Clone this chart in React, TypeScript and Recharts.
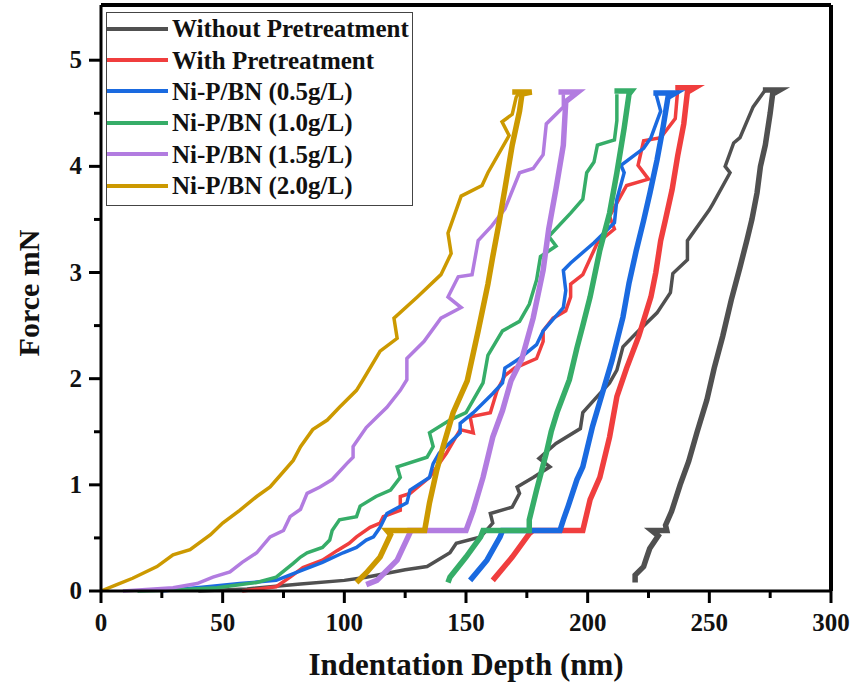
import { LineChart, Line, XAxis, YAxis, ReferenceLine, Label } from 'recharts'

type Pt = [number, number]

const seriesNames = [
  'Without Pretreatment',
  'With Pretreatment',
  'Ni-P/BN (0.5g/L)',
  'Ni-P/BN (1.0g/L)',
  'Ni-P/BN (1.5g/L)',
  'Ni-P/BN (2.0g/L)',
]
const seriesColors = ['#505050', '#f03e3e', '#1a6ae0', '#36ad68', '#b27ce0', '#cc9900']

const xTicks = [0, 25, 50, 75, 100, 125, 150, 175, 200, 225, 250, 275, 300]
const yTicks = [0, 0.5, 1, 1.5, 2, 2.5, 3, 3.5, 4, 4.5, 5]

// depth (nm), force (mN)
const grayLoad: Pt[] = [
  [40, 0], [60, 0.02], [82, 0.066], [100, 0.1], [109, 0.13], [125, 0.2], [134, 0.23], [143.4, 0.36],
  [146, 0.45], [156, 0.51], [161, 0.64], [160, 0.73], [169, 0.79], [172, 0.92], [171, 0.98],
  [177.6, 1.07], [184.5, 1.17], [180, 1.25], [187, 1.39], [197, 1.53], [198, 1.68], [205, 1.86],
  [209, 1.96], [212, 2.08], [214.5, 2.3], [220, 2.43], [228.5, 2.62], [234, 2.81], [235, 2.99],
  [241, 3.12], [241, 3.3], [250, 3.59], [251.5, 3.65], [258.5, 3.94], [256.5, 4.0], [260, 4.22],
  [262.6, 4.27], [268, 4.56], [273, 4.72],
]
const grayUnload: Pt[] = [
  [272, 4.72], [279, 4.72], [276, 4.68], [275, 4.5], [273, 4.2], [271, 4.0], [269.6, 3.75],
  [267.5, 3.5], [265.5, 3.31], [262.6, 3.05], [259, 2.74], [255.5, 2.4], [252, 2.1], [249, 1.8],
  [245, 1.5], [241.5, 1.22], [238, 1.0], [234.5, 0.75], [232, 0.62], [232.5, 0.57], [226.3, 0.57],
  [229, 0.52], [225.5, 0.4], [224, 0.3], [223, 0.23], [219.5, 0.15], [219.5, 0.08],
]

const redLoad: Pt[] = [
  [58, 0], [65, 0.02], [72, 0.04], [77.7, 0.13], [83, 0.22], [91, 0.29], [97, 0.38], [102, 0.45],
  [105, 0.51], [110.6, 0.6], [114.7, 0.64], [116, 0.7], [123, 0.76], [123, 0.89], [127, 0.92],
  [135, 1.07], [142, 1.3], [147.6, 1.52], [153, 1.49], [151.7, 1.64], [160, 1.68], [162.8, 1.89],
  [166, 2.03], [170, 2.1], [179, 2.19], [181.7, 2.35], [181.7, 2.45], [185.8, 2.57], [191, 2.64],
  [193, 2.77], [193, 2.89], [198, 2.98], [204, 3.28], [211, 3.41], [209, 3.53], [216, 3.82],
  [225, 3.88], [220.7, 4.01], [223, 4.24], [230, 4.27], [236, 4.45], [237, 4.72],
]
const redUnload: Pt[] = [
  [236, 4.74], [244, 4.74], [241, 4.7], [239.5, 4.4], [237, 4.1], [234.7, 3.78], [232, 3.5],
  [230, 3.3], [228, 3.0], [226, 2.77], [221, 2.4], [216, 2.1], [212, 1.83], [209, 1.45],
  [205, 1.07], [201, 0.86], [198, 0.57], [177.6, 0.57], [176, 0.54], [169, 0.32], [161, 0.1],
]

const blueLoad: Pt[] = [
  [25, 0], [43.6, 0.04], [57, 0.07], [72, 0.1], [83, 0.2], [91, 0.27], [99.5, 0.36], [105, 0.41],
  [109, 0.48], [112, 0.51], [114.7, 0.6], [117.5, 0.73], [125.7, 0.83], [127, 0.95], [135, 1.07],
  [136.5, 1.2], [139, 1.3], [147.6, 1.49], [147.6, 1.58], [153, 1.68], [161, 1.86], [165, 1.96],
  [166, 2.1], [172, 2.19], [179, 2.32], [181.7, 2.45], [190, 2.67], [191, 2.83], [190, 3.02],
  [193, 3.09], [202.6, 3.28], [211, 3.47], [212, 3.69], [215, 3.94], [213.7, 4.01], [223, 4.17],
  [226, 4.27], [230, 4.52], [228, 4.69],
]
const blueUnload: Pt[] = [
  [227, 4.69], [236, 4.69], [233, 4.65], [231, 4.37], [228.5, 4.06], [225.6, 3.75], [223, 3.49],
  [220, 3.21], [217, 2.9], [214.5, 2.58], [210, 2.17], [206, 1.86], [202, 1.55], [198, 1.17],
  [195.6, 1.05], [192, 0.8], [190, 0.67], [188.6, 0.57], [165, 0.57], [164, 0.51], [158.6, 0.29],
  [151.7, 0.1],
]

const greenLoad: Pt[] = [
  [15, 0], [30, 0.01], [47.7, 0.03], [64, 0.08], [72, 0.13], [79, 0.26], [82, 0.32], [84.7, 0.36],
  [91, 0.41], [94, 0.48], [95, 0.57], [98, 0.67], [105, 0.7], [106.5, 0.8], [113, 0.89], [119, 0.95],
  [123, 1.07], [121.7, 1.17], [134, 1.26], [136.5, 1.36], [135, 1.49], [143.4, 1.61], [150, 1.68],
  [157, 1.96], [159, 2.22], [165, 2.45], [172, 2.54], [176, 2.7], [179, 2.93], [180.6, 3.15],
  [187, 3.25], [184, 3.34], [193, 3.56], [198, 3.69], [199.6, 3.94], [202.6, 4.04], [204, 4.2],
  [211, 4.25], [212, 4.43], [212, 4.68],
]
const greenUnload: Pt[] = [
  [211, 4.71], [218, 4.71], [217, 4.68], [215, 4.36], [212, 3.94], [209, 3.56], [205, 3.21],
  [201, 2.77], [198, 2.5], [195.6, 2.29], [192.5, 1.99], [187.4, 1.68], [185, 1.5], [183, 1.3],
  [179, 0.95], [176, 0.67], [176, 0.57], [157, 0.57], [156, 0.51], [150, 0.32], [143.4, 0.13],
  [142.6, 0.08],
]

const purpleLoad: Pt[] = [
  [9, 0], [29.6, 0.03], [39.5, 0.07], [46, 0.13], [53, 0.18], [58, 0.27], [64, 0.36], [69.5, 0.51],
  [75, 0.57], [77.7, 0.7], [82, 0.77], [84.7, 0.92], [90, 0.98], [95, 1.05], [101, 1.2],
  [103.6, 1.26], [103.6, 1.36], [109, 1.54], [113.4, 1.64], [117.5, 1.73], [123, 1.89],
  [125.7, 1.99], [125.7, 2.19], [132.7, 2.35], [139.7, 2.57], [148, 2.67], [142.6, 2.77],
  [146.8, 2.96], [152.5, 2.98], [155, 3.3], [160.6, 3.44], [166, 3.6], [172, 3.94], [177.6, 3.98],
  [181.7, 4.11], [183, 4.4], [190, 4.56], [190, 4.68],
]
const purpleUnload: Pt[] = [
  [188, 4.7], [196, 4.7], [191, 4.61], [190, 4.2], [187, 3.79], [184, 3.41], [181.7, 3.02],
  [177.6, 2.57], [173, 2.19], [168.5, 1.98], [165, 1.7], [161, 1.45], [157, 1.07], [153, 0.76],
  [150, 0.57], [127, 0.57], [127, 0.55], [121.7, 0.29], [113.4, 0.1], [109, 0.06],
]

const goldLoad: Pt[] = [
  [0, 0], [6.5, 0.06], [13, 0.12], [23, 0.23], [29.6, 0.34], [36.6, 0.39], [45, 0.53], [50, 0.64],
  [57, 0.76], [64, 0.89], [69.5, 0.98], [79, 1.23], [82, 1.36], [87, 1.52], [93, 1.61], [98, 1.73],
  [105, 1.89], [107.7, 1.99], [114.7, 2.26], [121.7, 2.38], [120.4, 2.57], [130, 2.77],
  [139.7, 2.98], [143.9, 3.18], [142.6, 3.37], [148, 3.72], [156.6, 3.82], [159, 3.94],
  [167.7, 4.29], [164.8, 4.42], [169, 4.49], [170.6, 4.65], [172, 4.7],
]
const goldUnload: Pt[] = [
  [169, 4.7], [177, 4.7], [173, 4.68], [172, 4.52], [169, 4.2], [166, 3.79], [163.6, 3.47],
  [161, 3.15], [159, 2.89], [155, 2.45], [150.5, 1.98], [144.7, 1.68], [140.6, 1.36], [138, 1.14],
  [135, 0.83], [133, 0.57], [117.5, 0.57], [119, 0.53], [114.7, 0.32], [109, 0.17], [105, 0.08],
]

const loadingCurves = [grayLoad, redLoad, blueLoad, greenLoad, purpleLoad, goldLoad]
const unloadingCurves = [grayUnload, redUnload, blueUnload, greenUnload, purpleUnload, goldUnload]

const toRows = (pts: Pt[]) => pts.map(([depth, force]) => ({ depth, force }))

const FONT = "'Liberation Serif', 'Times New Roman', serif"

const XTick = ({ x, y, payload }: any) => {
  const major = payload.value % 50 === 0
  return (
    <g>
      <line x1={x} x2={x} y1={y} y2={y + (major ? 12 : 7)} stroke="#000" strokeWidth={3} />
      {major && (
        <text x={x} y={y + 40} textAnchor="middle" fontFamily={FONT} fontWeight="bold" fontSize={25} fill="#111">
          {payload.value}
        </text>
      )}
    </g>
  )
}

const YTick = ({ x, y, payload }: any) => {
  const major = Number.isInteger(payload.value)
  return (
    <g>
      <line x1={x} x2={x - (major ? 12 : 7)} y1={y} y2={y} stroke="#000" strokeWidth={3} />
      {major && (
        <text x={x - 19} y={y + 8} textAnchor="end" fontFamily={FONT} fontWeight="bold" fontSize={25} fill="#111">
          {payload.value}
        </text>
      )}
    </g>
  )
}

function LegendBox() {
  return (
    <div
      style={{
        position: 'absolute',
        left: 106,
        top: 12,
        width: 307,
        height: 194,
        border: '1px solid #444',
        background: '#fff',
        boxSizing: 'border-box',
        paddingTop: 0,
      }}
    >
      {seriesNames.map((name, i) => (
        <div key={name} style={{ display: 'flex', alignItems: 'center', height: 31.4 }}>
          <svg width={64} height={10} style={{ display: 'block' }}>
            <line x1={0} x2={61} y1={5} y2={5} stroke={seriesColors[i]} strokeWidth={4} />
          </svg>
          <span
            style={{
              fontFamily: FONT,
              fontWeight: 'bold',
              fontSize: 25,
              lineHeight: '25px',
              color: '#111',
              whiteSpace: 'nowrap',
              marginLeft: 1,
            }}
          >
            {name}
          </span>
        </div>
      ))}
    </div>
  )
}

export default function App() {
  return (
    <div style={{ position: 'absolute', left: 0, top: 0, width: 853, height: 687, background: '#fff' }}>
      <LineChart width={853} height={687} margin={{ top: 5, right: 22, left: 41, bottom: 56 }}>
        <XAxis
          dataKey="depth"
          type="number"
          domain={[0, 300]}
          ticks={xTicks}
          interval={0}
          tickSize={0}
          tickMargin={0}
          tickLine={false}
          tick={<XTick />}
          axisLine={{ stroke: '#000', strokeWidth: 3 }}
          height={40}
        >
          <Label
            content={({ viewBox }: any) => (
              <text
                x={viewBox.x + viewBox.width / 2}
                y={viewBox.y + 84}
                textAnchor="middle"
                fontFamily={FONT}
                fontWeight="bold"
                fontSize={31}
                fill="#111"
              >
                Indentation Depth (nm)
              </text>
            )}
          />
        </XAxis>
        <YAxis
          type="number"
          domain={[0, 5.52]}
          ticks={yTicks}
          interval={0}
          tickSize={0}
          tickMargin={0}
          tickLine={false}
          tick={<YTick />}
          axisLine={{ stroke: '#000', strokeWidth: 3 }}
          width={60}
        >
          <Label
            content={({ viewBox }: any) => {
              const cx = 39
              const cy = viewBox.y + viewBox.height / 2 - 5
              return (
                <text
                  x={cx}
                  y={cy}
                  transform={`rotate(-90, ${cx}, ${cy})`}
                  textAnchor="middle"
                  fontFamily={FONT}
                  fontWeight="bold"
                  fontSize={30}
                  fill="#111"
                >
                  Force mN
                </text>
              )
            }}
          />
        </YAxis>
        <ReferenceLine y={5.52} stroke="#000" strokeWidth={4} />
        <ReferenceLine x={300} stroke="#000" strokeWidth={4} />
        {seriesNames.map((name, i) => (
          <Line
            key={`load-${name}`}
            data={toRows(loadingCurves[i])}
            dataKey="force"
            name={name}
            type="linear"
            stroke={seriesColors[i]}
            strokeWidth={3.5}
            dot={false}
            activeDot={false}
            isAnimationActive={false}
          />
        ))}
        {seriesNames.map((name, i) => (
          <Line
            key={`unload-${name}`}
            data={toRows(unloadingCurves[i])}
            dataKey="force"
            name={name}
            type="linear"
            stroke={seriesColors[i]}
            strokeWidth={5.5}
            dot={false}
            activeDot={false}
            isAnimationActive={false}
          />
        ))}
      </LineChart>
      <LegendBox />
    </div>
  )
}
